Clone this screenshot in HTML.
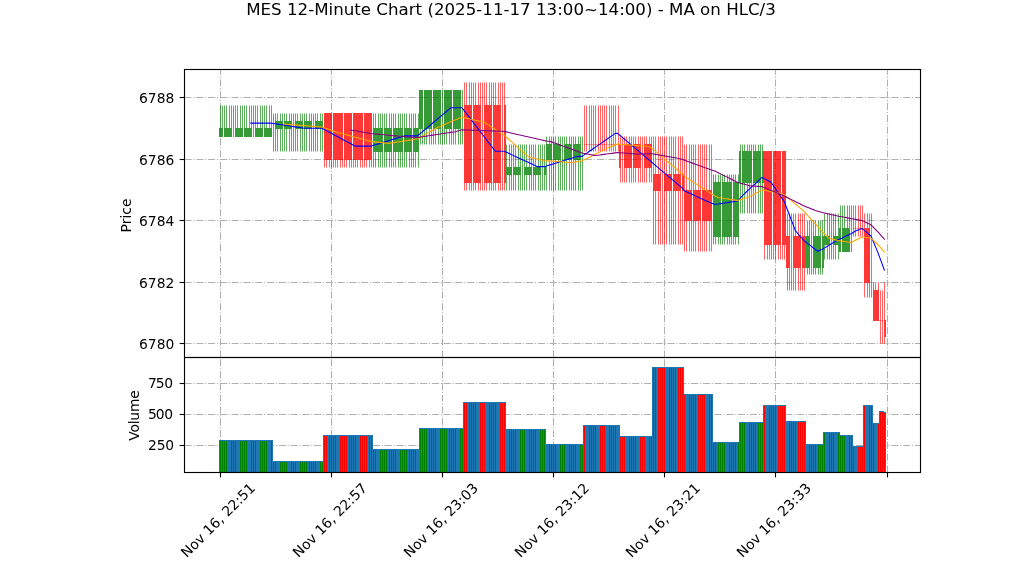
<!DOCTYPE html>
<html><head><meta charset="utf-8"><title>MES 12-Minute Chart</title>
<style>html,body{margin:0;padding:0;background:#fff;overflow:hidden}svg{display:block}</style></head>
<body>
<svg width="1022" height="575" viewBox="0 0 1022 575" style="display:block">
<rect width="1022" height="575" fill="#fff"/>
<g stroke="#b0b0b0" stroke-width="1.11" stroke-dasharray="7.11 1.78 1.11 1.78" fill="none">
<path d="M184.5 343.5H920.5"/>
<path d="M184.5 282.5H920.5"/>
<path d="M184.5 220.5H920.5"/>
<path d="M184.5 159.5H920.5"/>
<path d="M184.5 97.5H920.5"/>
<path d="M184.5 445.5H920.5"/>
<path d="M184.5 414.5H920.5"/>
<path d="M184.5 383.5H920.5"/>
<path d="M220.5 357.5V69.5"/>
<path d="M220.5 472.5V357.5"/>
<path d="M331.5 357.5V69.5"/>
<path d="M331.5 472.5V357.5"/>
<path d="M442.5 357.5V69.5"/>
<path d="M442.5 472.5V357.5"/>
<path d="M553.5 357.5V69.5"/>
<path d="M553.5 472.5V357.5"/>
<path d="M664.5 357.5V69.5"/>
<path d="M664.5 472.5V357.5"/>
<path d="M775.5 357.5V69.5"/>
<path d="M775.5 472.5V357.5"/>
<path d="M887.5 357.5V69.5"/>
<path d="M887.5 472.5V357.5"/>
</g>
<g shape-rendering="crispEdges">
</g>
<path fill="rgba(0,128,0,0.64)" d="M220 105.50h1V128h-1zM222 105.50h1V128h-1zM224 105.50h1V128h-1zM226 105.50h1V128h-1zM229 105.50h1V128h-1zM231 105.50h1V128h-1zM233 105.50h1V128h-1zM233 128h1V137h-1zM235 105.50h1V128h-1zM237 105.50h1V128h-1zM240 105.50h1V128h-1zM242 105.50h1V128h-1zM244 105.50h1V128h-1zM246 105.50h1V128h-1zM249 105.50h1V128h-1zM251 105.50h1V128h-1zM253 105.50h1V128h-1zM253 128h1V137h-1zM255 105.50h1V128h-1zM257 105.50h1V128h-1zM260 105.50h1V128h-1zM262 105.50h1V128h-1zM264 105.50h1V128h-1zM266 105.50h1V128h-1zM269 105.50h1V128h-1zM271 105.50h1V128h-1zM273 113.50h1V121h-1zM273 129h1V151.50h-1zM273 121h1V129h-1zM275 113.50h1V121h-1zM275 129h1V151.50h-1zM277 113.50h1V121h-1zM277 129h1V151.50h-1zM280 113.50h1V121h-1zM280 129h1V151.50h-1zM282 113.50h1V121h-1zM282 129h1V151.50h-1zM284 113.50h1V121h-1zM284 129h1V151.50h-1zM286 113.50h1V121h-1zM286 129h1V151.50h-1zM289 113.50h1V121h-1zM289 129h1V151.50h-1zM291 113.50h1V121h-1zM291 129h1V151.50h-1zM293 113.50h1V121h-1zM293 129h1V151.50h-1zM293 121h1V129h-1zM295 113.50h1V121h-1zM295 129h1V151.50h-1zM297 113.50h1V121h-1zM297 129h1V151.50h-1zM300 113.50h1V121h-1zM300 129h1V151.50h-1zM302 113.50h1V121h-1zM302 129h1V151.50h-1zM304 113.50h1V121h-1zM304 129h1V151.50h-1zM306 113.50h1V121h-1zM306 129h1V151.50h-1zM309 113.50h1V121h-1zM309 129h1V151.50h-1zM311 113.50h1V121h-1zM311 129h1V151.50h-1zM313 113.50h1V121h-1zM313 129h1V151.50h-1zM313 121h1V129h-1zM315 113.50h1V121h-1zM315 129h1V151.50h-1zM317 113.50h1V121h-1zM317 129h1V151.50h-1zM320 113.50h1V121h-1zM320 129h1V151.50h-1zM322 113.50h1V121h-1zM322 129h1V151.50h-1zM373 113.50h1V128h-1zM373 152h1V167.50h-1zM375 113.50h1V128h-1zM375 152h1V167.50h-1zM378 113.50h1V128h-1zM378 152h1V167.50h-1zM380 113.50h1V128h-1zM380 152h1V167.50h-1zM382 113.50h1V128h-1zM382 152h1V167.50h-1zM384 113.50h1V128h-1zM384 152h1V167.50h-1zM386 113.50h1V128h-1zM386 152h1V167.50h-1zM389 113.50h1V128h-1zM389 152h1V167.50h-1zM391 113.50h1V128h-1zM391 152h1V167.50h-1zM393 113.50h1V128h-1zM393 152h1V167.50h-1zM395 113.50h1V128h-1zM395 152h1V167.50h-1zM398 113.50h1V128h-1zM398 152h1V167.50h-1zM400 113.50h1V128h-1zM400 152h1V167.50h-1zM402 113.50h1V128h-1zM402 152h1V167.50h-1zM404 113.50h1V128h-1zM404 152h1V167.50h-1zM406 113.50h1V128h-1zM406 152h1V167.50h-1zM409 113.50h1V128h-1zM409 152h1V167.50h-1zM411 113.50h1V128h-1zM411 152h1V167.50h-1zM413 113.50h1V128h-1zM413 152h1V167.50h-1zM415 113.50h1V128h-1zM415 152h1V167.50h-1zM418 113.50h1V128h-1zM418 152h1V167.50h-1zM420 129h1V144.50h-1zM422 129h1V144.50h-1zM424 129h1V144.50h-1zM426 129h1V144.50h-1zM429 129h1V144.50h-1zM431 129h1V144.50h-1zM433 129h1V144.50h-1zM435 129h1V144.50h-1zM438 129h1V144.50h-1zM440 129h1V144.50h-1zM442 129h1V144.50h-1zM442 90h1V129h-1zM444 129h1V144.50h-1zM446 129h1V144.50h-1zM449 129h1V144.50h-1zM451 129h1V144.50h-1zM453 129h1V144.50h-1zM455 129h1V144.50h-1zM458 129h1V144.50h-1zM460 129h1V144.50h-1zM462 129h1V144.50h-1zM462 90h1V129h-1zM506 144.50h1V167h-1zM506 175h1V190.50h-1zM509 144.50h1V167h-1zM509 175h1V190.50h-1zM511 144.50h1V167h-1zM511 175h1V190.50h-1zM513 144.50h1V167h-1zM513 175h1V190.50h-1zM515 144.50h1V167h-1zM515 175h1V190.50h-1zM518 144.50h1V167h-1zM518 175h1V190.50h-1zM520 144.50h1V167h-1zM520 175h1V190.50h-1zM522 144.50h1V167h-1zM522 175h1V190.50h-1zM522 167h1V175h-1zM524 144.50h1V167h-1zM524 175h1V190.50h-1zM526 144.50h1V167h-1zM526 175h1V190.50h-1zM529 144.50h1V167h-1zM529 175h1V190.50h-1zM531 144.50h1V167h-1zM531 175h1V190.50h-1zM533 144.50h1V167h-1zM533 175h1V190.50h-1zM535 144.50h1V167h-1zM535 175h1V190.50h-1zM538 144.50h1V167h-1zM538 175h1V190.50h-1zM540 144.50h1V167h-1zM540 175h1V190.50h-1zM542 144.50h1V167h-1zM542 175h1V190.50h-1zM542 167h1V175h-1zM544 144.50h1V167h-1zM544 175h1V190.50h-1zM546 136.50h1V144h-1zM546 160h1V190.50h-1zM549 136.50h1V144h-1zM549 160h1V190.50h-1zM551 136.50h1V144h-1zM551 160h1V190.50h-1zM553 136.50h1V144h-1zM553 160h1V190.50h-1zM555 136.50h1V144h-1zM555 160h1V190.50h-1zM558 136.50h1V144h-1zM558 160h1V190.50h-1zM560 136.50h1V144h-1zM560 160h1V190.50h-1zM562 136.50h1V144h-1zM562 160h1V190.50h-1zM562 144h1V160h-1zM564 136.50h1V144h-1zM564 160h1V190.50h-1zM566 136.50h1V144h-1zM566 160h1V190.50h-1zM569 136.50h1V144h-1zM569 160h1V190.50h-1zM571 136.50h1V144h-1zM571 160h1V190.50h-1zM573 136.50h1V144h-1zM573 160h1V190.50h-1zM575 136.50h1V144h-1zM575 160h1V190.50h-1zM578 136.50h1V144h-1zM578 160h1V190.50h-1zM580 136.50h1V144h-1zM580 160h1V190.50h-1zM582 136.50h1V144h-1zM582 160h1V190.50h-1zM582 144h1V160h-1zM713 174.50h1V182h-1zM713 237h1V244.50h-1zM715 174.50h1V182h-1zM715 237h1V244.50h-1zM718 174.50h1V182h-1zM718 237h1V244.50h-1zM720 174.50h1V182h-1zM720 237h1V244.50h-1zM722 174.50h1V182h-1zM722 237h1V244.50h-1zM724 174.50h1V182h-1zM724 237h1V244.50h-1zM727 174.50h1V182h-1zM727 237h1V244.50h-1zM729 174.50h1V182h-1zM729 237h1V244.50h-1zM731 174.50h1V182h-1zM731 237h1V244.50h-1zM733 174.50h1V182h-1zM733 237h1V244.50h-1zM735 174.50h1V182h-1zM735 237h1V244.50h-1zM738 174.50h1V182h-1zM738 237h1V244.50h-1zM740 144.50h1V151h-1zM740 183h1V213.50h-1zM742 144.50h1V151h-1zM742 183h1V213.50h-1zM744 144.50h1V151h-1zM744 183h1V213.50h-1zM747 144.50h1V151h-1zM747 183h1V213.50h-1zM749 144.50h1V151h-1zM749 183h1V213.50h-1zM751 144.50h1V151h-1zM751 183h1V213.50h-1zM753 144.50h1V151h-1zM753 183h1V213.50h-1zM755 144.50h1V151h-1zM755 183h1V213.50h-1zM758 144.50h1V151h-1zM758 183h1V213.50h-1zM760 144.50h1V151h-1zM760 183h1V213.50h-1zM762 144.50h1V151h-1zM762 183h1V213.50h-1zM807 220.50h1V236h-1zM807 268h1V274.50h-1zM809 220.50h1V236h-1zM809 268h1V274.50h-1zM811 220.50h1V236h-1zM811 268h1V274.50h-1zM811 236h1V268h-1zM813 220.50h1V236h-1zM813 268h1V274.50h-1zM815 220.50h1V236h-1zM815 268h1V274.50h-1zM818 220.50h1V236h-1zM818 268h1V274.50h-1zM820 220.50h1V236h-1zM820 268h1V274.50h-1zM822 220.50h1V236h-1zM822 268h1V274.50h-1zM824 213.50h1V236h-1zM824 245h1V259.50h-1zM827 213.50h1V236h-1zM827 245h1V259.50h-1zM829 213.50h1V236h-1zM829 245h1V259.50h-1zM831 213.50h1V236h-1zM831 245h1V259.50h-1zM831 236h1V245h-1zM833 213.50h1V236h-1zM833 245h1V259.50h-1zM835 213.50h1V236h-1zM835 245h1V259.50h-1zM838 213.50h1V236h-1zM838 245h1V259.50h-1zM840 205.50h1V228h-1zM842 205.50h1V228h-1zM844 205.50h1V228h-1zM847 205.50h1V228h-1zM849 205.50h1V228h-1zM851 205.50h1V228h-1zM851 228h1V252h-1z"/>
<path fill="rgba(255,0,0,0.61)" d="M324 160h1V167.50h-1zM326 160h1V167.50h-1zM329 160h1V167.50h-1zM331 160h1V167.50h-1zM333 160h1V167.50h-1zM335 160h1V167.50h-1zM337 160h1V167.50h-1zM340 160h1V167.50h-1zM342 160h1V167.50h-1zM344 160h1V167.50h-1zM346 160h1V167.50h-1zM349 160h1V167.50h-1zM351 160h1V167.50h-1zM353 160h1V167.50h-1zM355 160h1V167.50h-1zM357 160h1V167.50h-1zM360 160h1V167.50h-1zM362 160h1V167.50h-1zM364 160h1V167.50h-1zM366 160h1V167.50h-1zM369 160h1V167.50h-1zM371 160h1V167.50h-1zM464 82.50h1V105h-1zM464 183h1V190.50h-1zM466 82.50h1V105h-1zM466 183h1V190.50h-1zM469 82.50h1V105h-1zM469 183h1V190.50h-1zM471 82.50h1V105h-1zM471 183h1V190.50h-1zM473 82.50h1V105h-1zM473 183h1V190.50h-1zM475 82.50h1V105h-1zM475 183h1V190.50h-1zM478 82.50h1V105h-1zM478 183h1V190.50h-1zM480 82.50h1V105h-1zM480 183h1V190.50h-1zM482 82.50h1V105h-1zM482 183h1V190.50h-1zM482 105h1V183h-1zM484 82.50h1V105h-1zM484 183h1V190.50h-1zM486 82.50h1V105h-1zM486 183h1V190.50h-1zM489 82.50h1V105h-1zM489 183h1V190.50h-1zM491 82.50h1V105h-1zM491 183h1V190.50h-1zM493 82.50h1V105h-1zM493 183h1V190.50h-1zM495 82.50h1V105h-1zM495 183h1V190.50h-1zM498 82.50h1V105h-1zM498 183h1V190.50h-1zM500 82.50h1V105h-1zM500 183h1V190.50h-1zM502 82.50h1V105h-1zM502 183h1V190.50h-1zM502 105h1V183h-1zM504 82.50h1V105h-1zM504 183h1V190.50h-1zM584 105.50h1V151.50h-1zM586 105.50h1V151.50h-1zM589 105.50h1V151.50h-1zM591 105.50h1V151.50h-1zM593 105.50h1V151.50h-1zM595 105.50h1V151.50h-1zM598 105.50h1V151.50h-1zM600 105.50h1V151.50h-1zM602 105.50h1V151.50h-1zM604 105.50h1V151.50h-1zM606 105.50h1V151.50h-1zM609 105.50h1V151.50h-1zM611 105.50h1V151.50h-1zM613 105.50h1V151.50h-1zM615 105.50h1V151.50h-1zM618 105.50h1V151.50h-1zM620 136.50h1V144h-1zM620 168h1V182.50h-1zM622 136.50h1V144h-1zM622 168h1V182.50h-1zM622 144h1V168h-1zM624 136.50h1V144h-1zM624 168h1V182.50h-1zM626 136.50h1V144h-1zM626 168h1V182.50h-1zM629 136.50h1V144h-1zM629 168h1V182.50h-1zM631 136.50h1V144h-1zM631 168h1V182.50h-1zM633 136.50h1V144h-1zM633 168h1V182.50h-1zM635 136.50h1V144h-1zM635 168h1V182.50h-1zM638 136.50h1V144h-1zM638 168h1V182.50h-1zM640 136.50h1V144h-1zM640 168h1V182.50h-1zM642 136.50h1V144h-1zM642 168h1V182.50h-1zM642 144h1V168h-1zM644 136.50h1V144h-1zM644 168h1V182.50h-1zM646 136.50h1V144h-1zM646 168h1V182.50h-1zM649 136.50h1V144h-1zM649 168h1V182.50h-1zM651 136.50h1V144h-1zM651 168h1V182.50h-1zM653 136.50h1V174h-1zM653 191h1V244.50h-1zM655 136.50h1V174h-1zM655 191h1V244.50h-1zM658 136.50h1V174h-1zM658 191h1V244.50h-1zM660 136.50h1V174h-1zM660 191h1V244.50h-1zM662 136.50h1V174h-1zM662 191h1V244.50h-1zM662 174h1V191h-1zM664 136.50h1V174h-1zM664 191h1V244.50h-1zM666 136.50h1V174h-1zM666 191h1V244.50h-1zM669 136.50h1V174h-1zM669 191h1V244.50h-1zM671 136.50h1V174h-1zM671 191h1V244.50h-1zM673 136.50h1V174h-1zM673 191h1V244.50h-1zM675 136.50h1V174h-1zM675 191h1V244.50h-1zM678 136.50h1V174h-1zM678 191h1V244.50h-1zM680 136.50h1V174h-1zM680 191h1V244.50h-1zM682 136.50h1V174h-1zM682 191h1V244.50h-1zM684 144.50h1V190h-1zM684 221h1V251.50h-1zM686 144.50h1V190h-1zM686 221h1V251.50h-1zM689 144.50h1V190h-1zM689 221h1V251.50h-1zM691 144.50h1V190h-1zM691 221h1V251.50h-1zM693 144.50h1V190h-1zM693 221h1V251.50h-1zM695 144.50h1V190h-1zM695 221h1V251.50h-1zM698 144.50h1V190h-1zM698 221h1V251.50h-1zM700 144.50h1V190h-1zM700 221h1V251.50h-1zM702 144.50h1V190h-1zM702 221h1V251.50h-1zM704 144.50h1V190h-1zM704 221h1V251.50h-1zM706 144.50h1V190h-1zM706 221h1V251.50h-1zM709 144.50h1V190h-1zM709 221h1V251.50h-1zM711 144.50h1V190h-1zM711 221h1V251.50h-1zM764 245h1V259.50h-1zM767 245h1V259.50h-1zM769 245h1V259.50h-1zM771 245h1V259.50h-1zM773 245h1V259.50h-1zM775 245h1V259.50h-1zM778 245h1V259.50h-1zM780 245h1V259.50h-1zM782 245h1V259.50h-1zM784 245h1V259.50h-1zM787 213.50h1V236h-1zM787 268h1V290.50h-1zM789 213.50h1V236h-1zM789 268h1V290.50h-1zM791 213.50h1V236h-1zM791 268h1V290.50h-1zM791 236h1V268h-1zM793 213.50h1V236h-1zM793 268h1V290.50h-1zM795 213.50h1V236h-1zM795 268h1V290.50h-1zM798 213.50h1V236h-1zM798 268h1V290.50h-1zM800 213.50h1V236h-1zM800 268h1V290.50h-1zM802 213.50h1V236h-1zM802 268h1V290.50h-1zM804 213.50h1V236h-1zM804 268h1V290.50h-1zM853 205.50h1V236.50h-1zM855 205.50h1V236.50h-1zM858 205.50h1V236.50h-1zM860 205.50h1V236.50h-1zM862 205.50h1V236.50h-1zM864 213.50h1V228h-1zM864 283h1V297.50h-1zM867 213.50h1V228h-1zM867 283h1V297.50h-1zM869 213.50h1V228h-1zM869 283h1V297.50h-1zM871 213.50h1V228h-1zM871 283h1V297.50h-1zM871 228h1V283h-1zM873 282.50h1V290h-1zM875 282.50h1V290h-1zM878 282.50h1V290h-1zM880 290.50h1V343.50h-1zM882 290.50h1V343.50h-1zM884 282.50h1V320h-1zM884 337h1V343.50h-1z"/>
<g shape-rendering="crispEdges">
<path fill="rgba(0,128,0,0.79)" d="M219 128h2V137h-2zM221 128h2V137h-2zM224 128h2V137h-2zM226 128h2V137h-2zM228 128h2V137h-2zM230 128h2V137h-2zM235 128h2V137h-2zM237 128h2V137h-2zM239 128h2V137h-2zM241 128h2V137h-2zM244 128h2V137h-2zM246 128h2V137h-2zM248 128h2V137h-2zM250 128h2V137h-2zM255 128h2V137h-2zM257 128h2V137h-2zM259 128h2V137h-2zM261 128h2V137h-2zM264 128h2V137h-2zM266 128h2V137h-2zM268 128h2V137h-2zM270 128h2V137h-2zM275 121h2V129h-2zM277 121h2V129h-2zM279 121h2V129h-2zM281 121h2V129h-2zM284 121h2V129h-2zM286 121h2V129h-2zM288 121h2V129h-2zM290 121h2V129h-2zM295 121h2V129h-2zM297 121h2V129h-2zM299 121h2V129h-2zM301 121h2V129h-2zM304 121h2V129h-2zM306 121h2V129h-2zM308 121h2V129h-2zM310 121h2V129h-2zM315 121h2V129h-2zM317 121h2V129h-2zM319 121h2V129h-2zM321 121h2V129h-2zM373 128h2V152h-2zM375 128h2V152h-2zM377 128h2V152h-2zM379 128h2V152h-2zM381 128h2V152h-2zM384 128h2V152h-2zM386 128h2V152h-2zM388 128h2V152h-2zM390 128h2V152h-2zM393 128h2V152h-2zM395 128h2V152h-2zM397 128h2V152h-2zM399 128h2V152h-2zM401 128h2V152h-2zM404 128h2V152h-2zM406 128h2V152h-2zM408 128h2V152h-2zM410 128h2V152h-2zM413 128h2V152h-2zM415 128h2V152h-2zM417 128h2V152h-2zM419 90h2V129h-2zM421 90h2V129h-2zM424 90h2V129h-2zM426 90h2V129h-2zM428 90h2V129h-2zM430 90h2V129h-2zM433 90h2V129h-2zM435 90h2V129h-2zM437 90h2V129h-2zM439 90h2V129h-2zM444 90h2V129h-2zM446 90h2V129h-2zM448 90h2V129h-2zM450 90h2V129h-2zM453 90h2V129h-2zM455 90h2V129h-2zM457 90h2V129h-2zM459 90h2V129h-2zM506 167h2V175h-2zM508 167h2V175h-2zM510 167h2V175h-2zM513 167h2V175h-2zM515 167h2V175h-2zM517 167h2V175h-2zM519 167h2V175h-2zM524 167h2V175h-2zM526 167h2V175h-2zM528 167h2V175h-2zM530 167h2V175h-2zM533 167h2V175h-2zM535 167h2V175h-2zM537 167h2V175h-2zM539 167h2V175h-2zM544 167h2V175h-2zM546 144h2V160h-2zM548 144h2V160h-2zM550 144h2V160h-2zM553 144h2V160h-2zM555 144h2V160h-2zM557 144h2V160h-2zM559 144h2V160h-2zM564 144h2V160h-2zM566 144h2V160h-2zM568 144h2V160h-2zM570 144h2V160h-2zM573 144h2V160h-2zM575 144h2V160h-2zM577 144h2V160h-2zM579 144h2V160h-2zM713 182h2V237h-2zM715 182h2V237h-2zM717 182h2V237h-2zM719 182h2V237h-2zM722 182h2V237h-2zM724 182h2V237h-2zM726 182h2V237h-2zM728 182h2V237h-2zM730 182h2V237h-2zM733 182h2V237h-2zM735 182h2V237h-2zM737 182h2V237h-2zM739 151h2V183h-2zM742 151h2V183h-2zM744 151h2V183h-2zM746 151h2V183h-2zM748 151h2V183h-2zM750 151h2V183h-2zM753 151h2V183h-2zM755 151h2V183h-2zM757 151h2V183h-2zM759 151h2V183h-2zM762 151h2V183h-2zM806 236h2V268h-2zM808 236h2V268h-2zM813 236h2V268h-2zM815 236h2V268h-2zM817 236h2V268h-2zM819 236h2V268h-2zM822 236h2V268h-2zM824 236h2V245h-2zM826 236h2V245h-2zM828 236h2V245h-2zM833 236h2V245h-2zM835 236h2V245h-2zM837 236h2V245h-2zM839 228h2V252h-2zM842 228h2V252h-2zM844 228h2V252h-2zM846 228h2V252h-2zM848 228h2V252h-2z"/>
<path fill="rgba(255,0,0,0.785)" d="M324 113h2V160h-2zM326 113h2V160h-2zM328 113h2V160h-2zM330 113h2V160h-2zM333 113h2V160h-2zM335 113h2V160h-2zM337 113h2V160h-2zM339 113h2V160h-2zM341 113h2V160h-2zM344 113h2V160h-2zM346 113h2V160h-2zM348 113h2V160h-2zM350 113h2V160h-2zM353 113h2V160h-2zM355 113h2V160h-2zM357 113h2V160h-2zM359 113h2V160h-2zM361 113h2V160h-2zM364 113h2V160h-2zM366 113h2V160h-2zM368 113h2V160h-2zM370 113h2V160h-2zM464 105h2V183h-2zM466 105h2V183h-2zM468 105h2V183h-2zM470 105h2V183h-2zM473 105h2V183h-2zM475 105h2V183h-2zM477 105h2V183h-2zM479 105h2V183h-2zM484 105h2V183h-2zM486 105h2V183h-2zM488 105h2V183h-2zM490 105h2V183h-2zM493 105h2V183h-2zM495 105h2V183h-2zM497 105h2V183h-2zM499 105h2V183h-2zM504 105h2V183h-2zM619 144h2V168h-2zM624 144h2V168h-2zM626 144h2V168h-2zM628 144h2V168h-2zM630 144h2V168h-2zM633 144h2V168h-2zM635 144h2V168h-2zM637 144h2V168h-2zM639 144h2V168h-2zM644 144h2V168h-2zM646 144h2V168h-2zM648 144h2V168h-2zM650 144h2V168h-2zM653 174h2V191h-2zM655 174h2V191h-2zM657 174h2V191h-2zM659 174h2V191h-2zM664 174h2V191h-2zM666 174h2V191h-2zM668 174h2V191h-2zM670 174h2V191h-2zM673 174h2V191h-2zM675 174h2V191h-2zM677 174h2V191h-2zM679 174h2V191h-2zM682 174h2V191h-2zM684 190h2V221h-2zM686 190h2V221h-2zM688 190h2V221h-2zM690 190h2V221h-2zM693 190h2V221h-2zM695 190h2V221h-2zM697 190h2V221h-2zM699 190h2V221h-2zM702 190h2V221h-2zM704 190h2V221h-2zM706 190h2V221h-2zM708 190h2V221h-2zM710 190h2V221h-2zM764 151h2V245h-2zM766 151h2V245h-2zM768 151h2V245h-2zM770 151h2V245h-2zM773 151h2V245h-2zM775 151h2V245h-2zM777 151h2V245h-2zM779 151h2V245h-2zM782 151h2V245h-2zM784 151h2V245h-2zM786 236h2V268h-2zM788 236h2V268h-2zM793 236h2V268h-2zM795 236h2V268h-2zM797 236h2V268h-2zM799 236h2V268h-2zM802 236h2V268h-2zM804 236h2V268h-2zM864 228h2V283h-2zM866 228h2V283h-2zM868 228h2V283h-2zM873 290h2V321h-2zM875 290h2V321h-2zM877 290h2V321h-2zM884 320h2V337h-2z"/>
<rect x="584" y="144" width="35" height="1" fill="rgba(255,0,0,0.61)" opacity="0.6"/>
<rect x="853" y="228" width="11" height="1" fill="rgba(255,0,0,0.61)" opacity="0.6"/>
<rect x="879" y="320" width="5" height="1" fill="rgba(255,0,0,0.61)" opacity="0.6"/>
<path fill="#1f77b4" d="M219 440H273V472H219zM272 461H324V472H272zM323 435H373V472H323zM372 449H419V472H372zM419 428H464V472H419zM463 402H506V472H463zM506 429H546V472H506zM546 444H584V472H546zM583 425H620V472H583zM619 436H653V472H619zM652 367H684V472H652zM683 394H713V472H683zM712 442H740V472H712zM739 422H764V472H739zM763 405H786V472H763zM786 421H806V472H786zM806 444H824V472H806zM823 432H840V472H823zM839 435H853V472H839zM852 446H864V472H852zM863 405H873V472H863zM872 423H880V472H872zM879 411H884V472H879zM883 412H886V472H883z"/>
<path fill="#008000" d="M220 441h1V472h-1zM222 441h1V472h-1zM224 441h1V472h-1zM226 441h1V472h-1zM231 441h1V472h-1zM233 441h1V472h-1zM235 441h1V472h-1zM240 441h1V472h-1zM242 441h1V472h-1zM244 441h1V472h-1zM246 441h1V472h-1zM251 441h1V472h-1zM253 441h1V472h-1zM255 441h1V472h-1zM260 441h1V472h-1zM262 441h1V472h-1zM264 441h1V472h-1zM266 441h1V472h-1zM271 441h1V472h-1zM273 462h1V472h-1zM275 462h1V472h-1zM280 462h1V472h-1zM282 462h1V472h-1zM284 462h1V472h-1zM286 462h1V472h-1zM291 462h1V472h-1zM293 462h1V472h-1zM295 462h1V472h-1zM300 462h1V472h-1zM302 462h1V472h-1zM304 462h1V472h-1zM306 462h1V472h-1zM309 462h1V472h-1zM311 462h1V472h-1zM313 462h1V472h-1zM315 462h1V472h-1zM320 462h1V472h-1zM322 462h1V472h-1zM373 450h1V472h-1zM375 450h1V472h-1zM380 450h1V472h-1zM382 450h1V472h-1zM384 450h1V472h-1zM386 450h1V472h-1zM389 450h1V472h-1zM391 450h1V472h-1zM393 450h1V472h-1zM395 450h1V472h-1zM400 450h1V472h-1zM402 450h1V472h-1zM404 450h1V472h-1zM406 450h1V472h-1zM409 450h1V472h-1zM411 450h1V472h-1zM413 450h1V472h-1zM415 450h1V472h-1zM420 429h1V472h-1zM422 429h1V472h-1zM424 429h1V472h-1zM426 429h1V472h-1zM429 429h1V472h-1zM431 429h1V472h-1zM433 429h1V472h-1zM435 429h1V472h-1zM440 429h1V472h-1zM442 429h1V472h-1zM444 429h1V472h-1zM446 429h1V472h-1zM449 429h1V472h-1zM451 429h1V472h-1zM453 429h1V472h-1zM455 429h1V472h-1zM460 429h1V472h-1zM462 429h1V472h-1zM509 430h1V472h-1zM511 430h1V472h-1zM513 430h1V472h-1zM515 430h1V472h-1zM520 430h1V472h-1zM522 430h1V472h-1zM524 430h1V472h-1zM529 430h1V472h-1zM531 430h1V472h-1zM533 430h1V472h-1zM535 430h1V472h-1zM540 430h1V472h-1zM542 430h1V472h-1zM544 430h1V472h-1zM549 445h1V472h-1zM551 445h1V472h-1zM553 445h1V472h-1zM555 445h1V472h-1zM560 445h1V472h-1zM562 445h1V472h-1zM564 445h1V472h-1zM569 445h1V472h-1zM571 445h1V472h-1zM573 445h1V472h-1zM575 445h1V472h-1zM580 445h1V472h-1zM582 445h1V472h-1zM713 443h1V472h-1zM715 443h1V472h-1zM718 443h1V472h-1zM720 443h1V472h-1zM722 443h1V472h-1zM724 443h1V472h-1zM729 443h1V472h-1zM731 443h1V472h-1zM733 443h1V472h-1zM735 443h1V472h-1zM738 443h1V472h-1zM740 423h1V472h-1zM742 423h1V472h-1zM744 423h1V472h-1zM749 423h1V472h-1zM751 423h1V472h-1zM753 423h1V472h-1zM755 423h1V472h-1zM758 423h1V472h-1zM760 423h1V472h-1zM762 423h1V472h-1zM809 445h1V472h-1zM811 445h1V472h-1zM813 445h1V472h-1zM815 445h1V472h-1zM818 445h1V472h-1zM820 445h1V472h-1zM822 445h1V472h-1zM824 433h1V472h-1zM829 433h1V472h-1zM831 433h1V472h-1zM833 433h1V472h-1zM838 433h1V472h-1zM840 436h1V472h-1zM842 436h1V472h-1zM844 436h1V472h-1zM849 436h1V472h-1zM851 436h1V472h-1z"/>
<path fill="#ff0000" d="M324 436h1V472h-1zM326 436h1V472h-1zM329 436h1V472h-1zM331 436h1V472h-1zM333 436h1V472h-1zM335 436h1V472h-1zM340 436h1V472h-1zM342 436h1V472h-1zM344 436h1V472h-1zM346 436h1V472h-1zM349 436h1V472h-1zM351 436h1V472h-1zM353 436h1V472h-1zM355 436h1V472h-1zM360 436h1V472h-1zM362 436h1V472h-1zM364 436h1V472h-1zM366 436h1V472h-1zM369 436h1V472h-1zM371 436h1V472h-1zM464 403h1V472h-1zM466 403h1V472h-1zM469 403h1V472h-1zM471 403h1V472h-1zM473 403h1V472h-1zM475 403h1V472h-1zM480 403h1V472h-1zM482 403h1V472h-1zM484 403h1V472h-1zM489 403h1V472h-1zM491 403h1V472h-1zM493 403h1V472h-1zM495 403h1V472h-1zM500 403h1V472h-1zM502 403h1V472h-1zM504 403h1V472h-1zM584 426h1V472h-1zM589 426h1V472h-1zM591 426h1V472h-1zM593 426h1V472h-1zM595 426h1V472h-1zM600 426h1V472h-1zM602 426h1V472h-1zM604 426h1V472h-1zM609 426h1V472h-1zM611 426h1V472h-1zM613 426h1V472h-1zM615 426h1V472h-1zM620 437h1V472h-1zM622 437h1V472h-1zM624 437h1V472h-1zM629 437h1V472h-1zM631 437h1V472h-1zM633 437h1V472h-1zM635 437h1V472h-1zM640 437h1V472h-1zM642 437h1V472h-1zM644 437h1V472h-1zM649 437h1V472h-1zM651 437h1V472h-1zM653 368h1V472h-1zM655 368h1V472h-1zM658 368h1V472h-1zM660 368h1V472h-1zM662 368h1V472h-1zM664 368h1V472h-1zM669 368h1V472h-1zM671 368h1V472h-1zM673 368h1V472h-1zM675 368h1V472h-1zM678 368h1V472h-1zM680 368h1V472h-1zM682 368h1V472h-1zM684 395h1V472h-1zM689 395h1V472h-1zM691 395h1V472h-1zM693 395h1V472h-1zM695 395h1V472h-1zM698 395h1V472h-1zM700 395h1V472h-1zM702 395h1V472h-1zM704 395h1V472h-1zM709 395h1V472h-1zM711 395h1V472h-1zM764 406h1V472h-1zM769 406h1V472h-1zM771 406h1V472h-1zM773 406h1V472h-1zM775 406h1V472h-1zM778 406h1V472h-1zM780 406h1V472h-1zM782 406h1V472h-1zM784 406h1V472h-1zM789 422h1V472h-1zM791 422h1V472h-1zM793 422h1V472h-1zM795 422h1V472h-1zM798 422h1V472h-1zM800 422h1V472h-1zM802 422h1V472h-1zM804 422h1V472h-1zM853 447h1V472h-1zM858 447h1V472h-1zM860 447h1V472h-1zM862 447h1V472h-1zM864 406h1V472h-1zM869 406h1V472h-1zM871 406h1V472h-1zM873 424h1V472h-1zM878 424h1V472h-1zM880 412h1V472h-1zM882 412h1V472h-1zM884 413h1V472h-1z"/>
</g>
<polyline points="250.79,123.09 253.02,123.09 255.24,123.09 257.46,123.09 259.69,123.09 261.91,123.09 264.13,123.09 266.35,123.09 268.58,123.09 270.80,123.09 273.02,123.44 275.25,123.78 277.47,124.12 279.69,124.46 281.92,124.80 284.14,125.15 286.36,125.49 288.58,125.83 290.81,126.17 293.03,126.51 295.25,126.85 297.48,127.20 299.70,127.54 301.92,127.88 304.14,128.22 306.37,128.22 308.59,128.22 310.81,128.22 313.04,128.22 315.26,128.22 317.48,128.22 319.70,128.22 321.93,128.22 324.15,129.42 326.37,130.61 328.60,131.81 330.82,133.00 333.04,134.20 335.27,135.40 337.49,136.59 339.71,137.79 341.93,138.98 344.16,140.18 346.38,141.37 348.60,142.57 350.83,143.77 353.05,144.96 355.27,146.16 357.49,146.16 359.72,146.16 361.94,146.16 364.16,146.16 366.39,146.16 368.61,146.16 370.83,146.16 373.06,145.47 375.28,144.79 377.50,144.11 379.72,143.42 381.95,142.74 384.17,142.06 386.39,141.37 388.62,140.69 390.84,140.01 393.06,139.32 395.28,138.64 397.51,137.96 399.73,137.27 401.95,136.59 404.18,135.91 406.40,135.91 408.62,135.91 410.84,135.91 413.07,135.91 415.29,135.91 417.51,135.91 419.74,134.03 421.96,132.15 424.18,130.27 426.41,128.39 428.63,126.51 430.85,124.63 433.07,122.75 435.30,120.87 437.52,119.00 439.74,117.12 441.97,115.24 444.19,113.36 446.41,111.48 448.63,109.60 450.86,107.72 453.08,107.72 455.30,107.72 457.53,107.72 459.75,107.72 461.97,107.72 464.20,110.62 466.42,113.53 468.64,116.43 470.86,119.34 473.09,122.24 475.31,125.15 477.53,128.05 479.76,130.95 481.98,133.86 484.20,136.76 486.42,139.67 488.65,142.57 490.87,145.47 493.09,148.38 495.32,151.28 497.54,151.28 499.76,151.28 501.99,151.28 504.21,151.28 506.43,152.31 508.65,153.33 510.88,154.36 513.10,155.38 515.32,156.41 517.55,157.43 519.77,158.46 521.99,159.48 524.21,160.51 526.44,161.53 528.66,162.56 530.88,163.58 533.11,164.61 535.33,165.63 537.55,166.66 539.77,166.66 542.00,166.66 544.22,166.66 546.44,165.97 548.67,165.29 550.89,164.61 553.11,163.92 555.34,163.24 557.56,162.56 559.78,161.87 562.00,161.19 564.23,160.51 566.45,159.82 568.67,159.14 570.90,158.46 573.12,157.77 575.34,157.09 577.56,156.41 579.79,156.41 582.01,156.41 584.23,154.87 586.46,153.33 588.68,151.80 590.90,150.26 593.13,148.72 595.35,147.18 597.57,145.65 599.79,144.11 602.02,142.57 604.24,141.03 606.46,139.50 608.69,137.96 610.91,136.42 613.13,134.88 615.35,133.35 617.58,133.35 619.80,135.22 622.02,137.10 624.25,138.98 626.47,140.86 628.69,142.74 630.92,144.62 633.14,146.50 635.36,148.38 637.58,150.26 639.81,152.14 642.03,154.02 644.25,155.90 646.48,157.77 648.70,159.65 650.92,161.53 653.14,163.41 655.37,165.29 657.59,167.17 659.81,169.05 662.04,170.93 664.26,172.81 666.48,174.69 668.70,176.57 670.93,178.45 673.15,180.32 675.37,182.20 677.60,184.08 679.82,185.96 682.04,187.84 684.27,190.75 686.49,191.77 688.71,192.80 690.93,193.82 693.16,194.85 695.38,195.87 697.60,196.90 699.83,197.92 702.05,198.95 704.27,199.97 706.49,201.00 708.72,202.02 710.94,203.05 713.16,203.73 715.39,204.41 717.61,204.07 719.83,203.73 722.06,203.39 724.28,203.05 726.50,202.70 728.72,202.36 730.95,202.02 733.17,201.68 735.39,201.34 737.62,201.00 739.84,198.60 742.06,196.21 744.28,193.82 746.51,191.77 748.73,189.72 750.95,187.67 753.18,185.62 755.40,183.57 757.62,181.52 759.84,179.47 762.07,177.42 764.29,178.62 766.51,179.81 768.74,181.01 770.96,182.20 773.18,185.45 775.41,188.70 777.63,191.94 779.85,195.19 782.07,198.43 784.30,201.68 786.52,207.49 788.74,213.30 790.97,219.10 793.19,224.91 795.41,230.72 797.63,233.28 799.86,235.85 802.08,238.41 804.30,240.97 806.53,242.68 808.75,244.39 810.97,246.10 813.20,247.80 815.42,249.51 817.64,251.22 819.86,250.37 822.09,249.51 824.31,248.15 826.53,246.78 828.76,245.41 830.98,244.05 833.20,242.68 835.42,241.31 837.65,239.95 839.87,238.92 842.09,237.90 844.32,236.87 846.54,235.85 848.76,234.82 850.99,233.80 853.21,232.43 855.43,231.06 857.65,230.21 859.88,229.35 862.10,228.50 864.32,230.38 866.55,232.26 868.77,234.14 870.99,236.02 873.21,241.31 875.44,246.61 877.66,251.90 879.88,257.88 882.11,263.86 884.33,270.01" fill="none" stroke="#0000ff" stroke-width="1.08" stroke-linejoin="round" stroke-linecap="square"/>
<polyline points="284.14,124.12 286.36,124.29 288.58,124.46 290.81,124.63 293.03,124.80 295.25,124.97 297.48,125.14 299.70,125.32 301.92,125.49 304.14,125.66 306.37,125.83 308.59,126.00 310.81,126.17 313.04,126.34 315.26,126.51 317.48,126.68 319.70,126.85 321.93,127.02 324.15,127.79 326.37,128.56 328.60,129.33 330.82,130.10 333.04,130.87 335.27,131.64 337.49,132.41 339.71,133.00 341.93,133.60 344.16,134.20 346.38,134.80 348.60,135.39 350.83,135.99 353.05,136.59 355.27,137.19 357.49,137.79 359.72,138.38 361.94,138.98 364.16,139.58 366.39,140.18 368.61,140.78 370.83,141.37 373.06,141.63 375.28,141.89 377.50,142.14 379.72,142.40 381.95,142.66 384.17,142.91 386.39,143.17 388.62,143.42 390.84,143.08 393.06,142.74 395.28,142.40 397.51,142.06 399.73,141.72 401.95,141.37 404.18,141.03 406.40,140.69 408.62,140.35 410.84,140.01 413.07,139.67 415.29,139.32 417.51,138.98 419.74,137.70 421.96,136.42 424.18,135.14 426.41,133.86 428.63,132.58 430.85,131.29 433.07,130.01 435.30,128.73 437.52,127.45 439.74,126.51 441.97,125.57 444.19,124.63 446.41,123.69 448.63,122.75 450.86,121.81 453.08,120.87 455.30,119.93 457.53,118.99 459.75,118.06 461.97,117.12 464.20,117.63 466.42,118.14 468.64,118.65 470.86,119.17 473.09,119.68 475.31,120.19 477.53,120.70 479.76,121.22 481.98,121.73 484.20,122.24 486.42,123.69 488.65,125.14 490.87,126.60 493.09,128.05 495.32,129.50 497.54,130.95 499.76,132.41 501.99,133.86 504.21,135.31 506.43,137.27 508.65,139.24 510.88,141.20 513.10,143.17 515.32,145.13 517.55,147.10 519.77,149.06 521.99,151.03 524.21,152.99 526.44,154.96 528.66,156.92 530.88,157.43 533.11,157.94 535.33,158.46 537.55,158.97 539.77,159.48 542.00,159.99 544.22,160.51 546.44,160.68 548.67,160.85 550.89,161.02 553.11,161.19 555.34,161.36 557.56,161.53 559.78,161.70 562.00,161.87 564.23,162.04 566.45,162.22 568.67,162.39 570.90,162.56 573.12,162.22 575.34,161.87 577.56,161.53 579.79,161.19 582.01,160.85 584.23,159.74 586.46,158.63 588.68,157.52 590.90,156.41 593.13,155.30 595.35,154.19 597.57,153.08 599.79,151.97 602.02,150.86 604.24,149.74 606.46,148.63 608.69,147.52 610.91,146.41 613.13,145.64 615.35,144.88 617.58,144.11 619.80,144.28 622.02,144.45 624.25,144.62 626.47,144.79 628.69,144.96 630.92,145.13 633.14,145.30 635.36,145.47 637.58,145.64 639.81,145.82 642.03,145.99 644.25,146.16 646.48,146.33 648.70,146.50 650.92,147.44 653.14,149.32 655.37,151.20 657.59,153.08 659.81,154.96 662.04,156.83 664.26,158.71 666.48,160.59 668.70,162.47 670.93,164.35 673.15,166.23 675.37,168.11 677.60,169.99 679.82,171.87 682.04,173.75 684.27,176.14 686.49,177.59 688.71,179.04 690.93,180.49 693.16,181.95 695.38,183.40 697.60,184.85 699.83,186.30 702.05,187.76 704.27,189.21 706.49,190.66 708.72,192.11 710.94,193.56 713.16,194.84 715.39,196.13 717.61,197.41 719.83,197.75 722.06,198.09 724.28,198.43 726.50,198.77 728.72,199.12 730.95,199.46 733.17,199.80 735.39,200.14 737.62,200.48 739.84,199.80 742.06,199.12 744.28,198.43 746.51,197.75 748.73,197.07 750.95,195.87 753.18,194.67 755.40,193.48 757.62,192.28 759.84,191.09 762.07,189.89 764.29,190.32 766.51,190.74 768.74,191.17 770.96,191.60 773.18,192.03 775.41,192.45 777.63,192.88 779.85,193.48 782.07,194.08 784.30,194.67 786.52,196.55 788.74,198.43 790.97,200.31 793.19,202.19 795.41,204.07 797.63,205.95 799.86,207.83 802.08,209.71 804.30,211.59 806.53,214.06 808.75,216.54 810.97,219.02 813.20,221.49 815.42,223.97 817.64,226.45 819.86,228.93 822.09,231.40 824.31,233.62 826.53,235.84 828.76,238.07 830.98,238.66 833.20,239.26 835.42,239.86 837.65,240.46 839.87,240.80 842.09,241.14 844.32,241.48 846.54,241.82 848.76,242.17 850.99,242.51 853.21,241.40 855.43,240.29 857.65,239.18 859.88,238.07 862.10,236.96 864.32,237.21 866.55,237.47 868.77,237.72 870.99,237.98 873.21,240.12 875.44,242.25 877.66,244.39 879.88,246.86 882.11,249.34 884.33,251.90" fill="none" stroke="#ffa500" stroke-width="1.08" stroke-linejoin="round" stroke-linecap="square"/>
<polyline points="350.83,130.06 353.05,130.44 355.27,130.83 357.49,131.21 359.72,131.59 361.94,131.98 364.16,132.36 366.39,132.75 368.61,133.13 370.83,133.52 373.06,133.73 375.28,133.94 377.50,134.16 379.72,134.37 381.95,134.58 384.17,134.80 386.39,135.01 388.62,135.22 390.84,135.44 393.06,135.65 395.28,135.86 397.51,136.08 399.73,136.29 401.95,136.51 404.18,136.72 406.40,136.85 408.62,136.98 410.84,137.10 413.07,137.23 415.29,137.36 417.51,137.49 419.74,137.15 421.96,136.80 424.18,136.46 426.41,136.12 428.63,135.78 430.85,135.44 433.07,135.10 435.30,134.75 437.52,134.41 439.74,134.07 441.97,133.73 444.19,133.39 446.41,133.05 448.63,132.70 450.86,132.36 453.08,132.02 455.30,131.68 457.53,131.04 459.75,130.40 461.97,129.76 464.20,129.84 466.42,129.93 468.64,130.01 470.86,130.10 473.09,130.18 475.31,130.27 477.53,130.36 479.76,130.44 481.98,130.53 484.20,130.61 486.42,130.70 488.65,130.78 490.87,130.87 493.09,130.95 495.32,131.04 497.54,131.12 499.76,131.21 501.99,131.30 504.21,131.38 506.43,131.89 508.65,132.41 510.88,132.92 513.10,133.43 515.32,133.94 517.55,134.46 519.77,134.97 521.99,135.48 524.21,135.99 526.44,136.51 528.66,137.02 530.88,137.53 533.11,138.04 535.33,138.56 537.55,139.07 539.77,139.58 542.00,140.09 544.22,140.61 546.44,140.95 548.67,141.29 550.89,141.63 553.11,142.44 555.34,143.25 557.56,144.06 559.78,144.88 562.00,145.69 564.23,146.50 566.45,147.31 568.67,148.12 570.90,148.93 573.12,149.75 575.34,150.56 577.56,151.37 579.79,152.18 582.01,152.99 584.23,153.42 586.46,153.85 588.68,154.27 590.90,154.70 593.13,155.13 595.35,155.55 597.57,155.25 599.79,154.96 602.02,154.66 604.24,154.36 606.46,154.06 608.69,153.76 610.91,153.46 613.13,153.16 615.35,152.86 617.58,152.56 619.80,152.73 622.02,152.91 624.25,153.08 626.47,153.25 628.69,153.42 630.92,153.59 633.14,153.76 635.36,153.93 637.58,154.10 639.81,154.02 642.03,153.93 644.25,153.85 646.48,153.76 648.70,153.67 650.92,153.59 653.14,153.97 655.37,154.36 657.59,154.74 659.81,155.13 662.04,155.51 664.26,155.90 666.48,156.28 668.70,156.66 670.93,157.05 673.15,157.43 675.37,157.82 677.60,158.20 679.82,158.76 682.04,159.31 684.27,160.12 686.49,160.93 688.71,161.75 690.93,162.56 693.16,163.37 695.38,164.18 697.60,164.99 699.83,165.80 702.05,166.61 704.27,167.43 706.49,168.24 708.72,169.05 710.94,169.86 713.16,170.59 715.39,171.31 717.61,172.42 719.83,173.53 722.06,174.64 724.28,175.75 726.50,176.86 728.72,177.98 730.95,179.09 733.17,180.20 735.39,181.31 737.62,182.42 739.84,183.01 742.06,183.61 744.28,184.21 746.51,184.81 748.73,185.41 750.95,186.00 753.18,186.13 755.40,186.26 757.62,186.39 759.84,186.52 762.07,186.64 764.29,187.58 766.51,188.52 768.74,189.46 770.96,190.40 773.18,191.34 775.41,192.28 777.63,193.22 779.85,194.16 782.07,195.10 784.30,196.04 786.52,197.15 788.74,198.26 790.97,199.37 793.19,200.48 795.41,201.59 797.63,202.70 799.86,203.81 802.08,204.92 804.30,206.03 806.53,206.93 808.75,207.83 810.97,208.73 813.20,209.62 815.42,210.52 817.64,211.16 819.86,211.80 822.09,212.44 824.31,212.95 826.53,213.47 828.76,213.98 830.98,214.49 833.20,215.00 835.42,215.52 837.65,216.03 839.87,216.41 842.09,216.80 844.32,217.18 846.54,217.65 848.76,218.12 850.99,218.59 853.21,218.98 855.43,219.36 857.65,219.74 859.88,220.13 862.10,220.51 864.32,221.58 866.55,222.65 868.77,223.72 870.99,224.78 873.21,227.09 875.44,229.40 877.66,231.70 879.88,234.18 882.11,236.66 884.33,239.18" fill="none" stroke="#800080" stroke-width="1.08" stroke-linejoin="round" stroke-linecap="square"/>
<g stroke="#000" stroke-width="1.11" fill="none" stroke-linecap="square">
<rect x="184.5" y="69.5" width="736.0" height="288.0"/>
<rect x="184.5" y="357.5" width="736.0" height="115.0"/>
<path d="M184.5 343.5h-4.86" stroke-linecap="butt"/>
<path d="M184.5 282.5h-4.86" stroke-linecap="butt"/>
<path d="M184.5 220.5h-4.86" stroke-linecap="butt"/>
<path d="M184.5 159.5h-4.86" stroke-linecap="butt"/>
<path d="M184.5 97.5h-4.86" stroke-linecap="butt"/>
<path d="M184.5 445.5h-4.86" stroke-linecap="butt"/>
<path d="M184.5 414.5h-4.86" stroke-linecap="butt"/>
<path d="M184.5 383.5h-4.86" stroke-linecap="butt"/>
<path d="M220.5 472.5v4.86" stroke-linecap="butt"/>
<path d="M331.5 472.5v4.86" stroke-linecap="butt"/>
<path d="M442.5 472.5v4.86" stroke-linecap="butt"/>
<path d="M553.5 472.5v4.86" stroke-linecap="butt"/>
<path d="M664.5 472.5v4.86" stroke-linecap="butt"/>
<path d="M775.5 472.5v4.86" stroke-linecap="butt"/>
<path d="M887.5 472.5v4.86" stroke-linecap="butt"/>
</g>
<g font-family="'DejaVu Sans', 'Liberation Sans', sans-serif" fill="#000">
<text x="511" y="15.3" font-size="16.67" text-anchor="middle">MES 12-Minute Chart (2025-11-17 13:00~14:00) - MA on HLC/3</text>
<text x="174.3" y="348.8" font-size="13.89" text-anchor="end">6780</text>
<text x="174.3" y="287.8" font-size="13.89" text-anchor="end">6782</text>
<text x="174.3" y="225.8" font-size="13.89" text-anchor="end">6784</text>
<text x="174.3" y="164.8" font-size="13.89" text-anchor="end">6786</text>
<text x="174.3" y="102.8" font-size="13.89" text-anchor="end">6788</text>
<text x="148.1 156.8 165.25" y="450.1" font-size="13.89">250</text>
<text x="148.1 155.85 164.3" y="419.1" font-size="13.89">500</text>
<text x="148.1 155.85 164.3" y="388.1" font-size="13.89">750</text>
<text transform="translate(131.4,215.5) rotate(-90)" font-size="13.89" text-anchor="middle">Price</text>
<text transform="translate(139.2,415.6) rotate(-90)" letter-spacing="-0.2" font-size="13.89" text-anchor="middle">Volume</text>
<text transform="translate(217.9,520.2) rotate(-45)" font-size="13.89" text-anchor="middle" dy="5">Nov 16, 22:51</text>
<text transform="translate(329.7,520.2) rotate(-45)" font-size="13.89" text-anchor="middle" dy="5">Nov 16, 22:57</text>
<text transform="translate(440.7,520.2) rotate(-45)" font-size="13.89" text-anchor="middle" dy="5">Nov 16, 23:03</text>
<text transform="translate(551.7,520.2) rotate(-45)" font-size="13.89" text-anchor="middle" dy="5">Nov 16, 23:12</text>
<text transform="translate(662.7,520.2) rotate(-45)" font-size="13.89" text-anchor="middle" dy="5">Nov 16, 23:21</text>
<text transform="translate(773.7,520.2) rotate(-45)" font-size="13.89" text-anchor="middle" dy="5">Nov 16, 23:33</text>
</g>
</svg>
</body></html>
